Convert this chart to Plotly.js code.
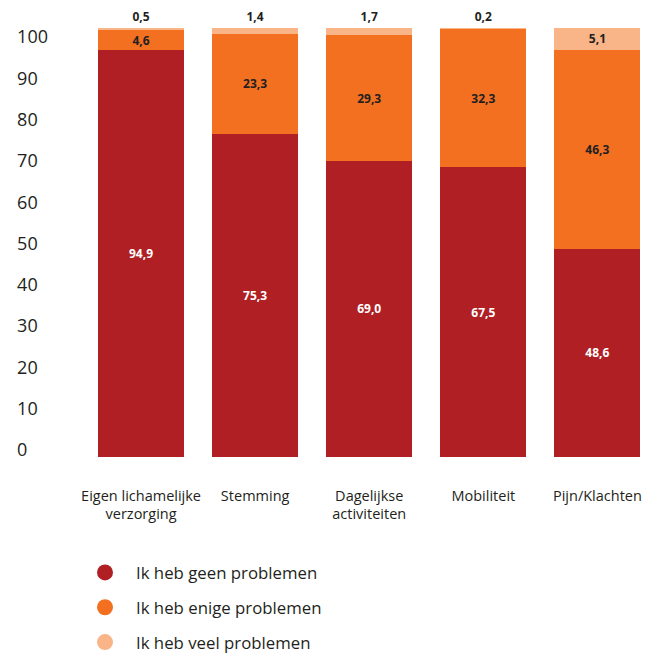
<!DOCTYPE html>
<html>
<head>
<meta charset="utf-8">
<script src="https://cdn.plot.ly/plotly-3.0.1.min.js"></script>
<style>html,body{margin:0;padding:0;background:#fff;}</style>
</head>
<body>
<div id="chart" style="width:645px;height:653px;"></div>
<script>
const categories = ["Eigen lichamelijke<br>verzorging", "Stemming", "Dagelijkse<br>activiteiten", "Mobiliteit", "Pijn/Klachten"];
const geenProblemen = [94.9, 75.3, 69.0, 67.5, 48.6];
const enigeProblemen = [4.6, 23.3, 29.3, 32.3, 46.3];
const veelProblemen = [0.5, 1.4, 1.7, 0.2, 5.1];
const seriesNames = ["Ik heb geen problemen", "Ik heb enige problemen", "Ik heb veel problemen"];
const yTicks = [0, 10, 20, 30, 40, 50, 60, 70, 80, 90, 100];

const colors = ["#af1f24", "#f37021", "#f9b487"];
const dark = "#231f20";
const font = "'Open Sans', sans-serif";

function barTrace(vals, i, textColor, textpos) {
  return {
    type: "bar", x: categories, y: vals, name: seriesNames[i],
    marker: {color: colors[i], line: {width: 0}},
    texttemplate: "%{y:.1f}", textposition: textpos,
    insidetextanchor: "middle", constraintext: "none", cliponaxis: false,
    textfont: {family: font, size: 12, color: textColor, weight: "bold"},
    insidetextfont: {family: font, size: 12, color: textColor, weight: "bold"},
    outsidetextfont: {family: font, size: 12, color: dark, weight: "bold"},
    showlegend: false, hoverinfo: "skip"
  };
}

const traces = [
  barTrace(geenProblemen, 0, "#ffffff", "inside"),
  barTrace(enigeProblemen, 1, dark, "inside"),
  barTrace(veelProblemen, 2, dark, veelProblemen.map(v => v < 3 ? "outside" : "inside"))
];
seriesNames.forEach((n, i) => {
  traces.push({
    type: "scatter", mode: "markers", x: [null], y: [null], name: n,
    marker: {color: colors[i], size: 20, symbol: "circle"},
    legendgroup: "g" + i, showlegend: true, hoverinfo: "skip"
  });
});
// dummy trace on yaxis2 so the tick-label axis is drawn
traces.push({type: "scatter", mode: "none", x: [categories[0]], y: [null], yaxis: "y2", showlegend: false, hoverinfo: "skip"});

// pad tick labels with figure spaces so they read left-aligned
const maxLen = Math.max(...yTicks.map(v => String(v).length));
const yTickText = yTicks.map(v => String(v) + "\u2007".repeat(maxLen - String(v).length));

const L = 48;
const legendTop = 555; // px from top of figure
const layout = {
  width: 645, height: 653,
  margin: {l: L, r: 0, t: 28, b: 196},
  paper_bgcolor: "#fff", plot_bgcolor: "#fff",
  barmode: "stack", bargap: 0.246,
  separators: ",.",
  font: {family: font, color: dark},
  xaxis: {
    domain: [(84 - L) / (645 - L), 1], range: [-0.5, 4.417], type: "category",
    showgrid: false, zeroline: false, showline: false, ticks: "",
    tickangle: 0, automargin: false,
    tickfont: {family: font, size: 14.5, color: dark},
    ticklabelstandoff: 28, fixedrange: true
  },
  yaxis: {
    range: [0, 100], showgrid: false, zeroline: false, showline: false,
    showticklabels: false, ticks: "", fixedrange: true, automargin: false
  },
  yaxis2: {
    overlaying: "y", anchor: "free", position: 0, side: "left",
    range: [-1.695, 102.18], tickvals: yTicks, ticktext: yTickText,
    showgrid: false, zeroline: false, showline: false, ticks: "",
    automargin: false,
    tickfont: {family: font, size: 18, color: dark}, fixedrange: true
  },
  showlegend: true,
  legend: {
    xref: "paper", yref: "container",
    x: (74 - L) / (645 - L), y: 1 - legendTop / 653,
    xanchor: "left", yanchor: "top",
    font: {family: font, size: 16.8, color: dark},
    itemwidth: 52, tracegroupgap: 10, traceorder: "grouped",
    bgcolor: "rgba(0,0,0,0)", borderwidth: 0, itemclick: false, itemdoubleclick: false
  }
};

Plotly.newPlot("chart", traces, layout, {displayModeBar: false, staticPlot: true});
</script>
</body>
</html>
